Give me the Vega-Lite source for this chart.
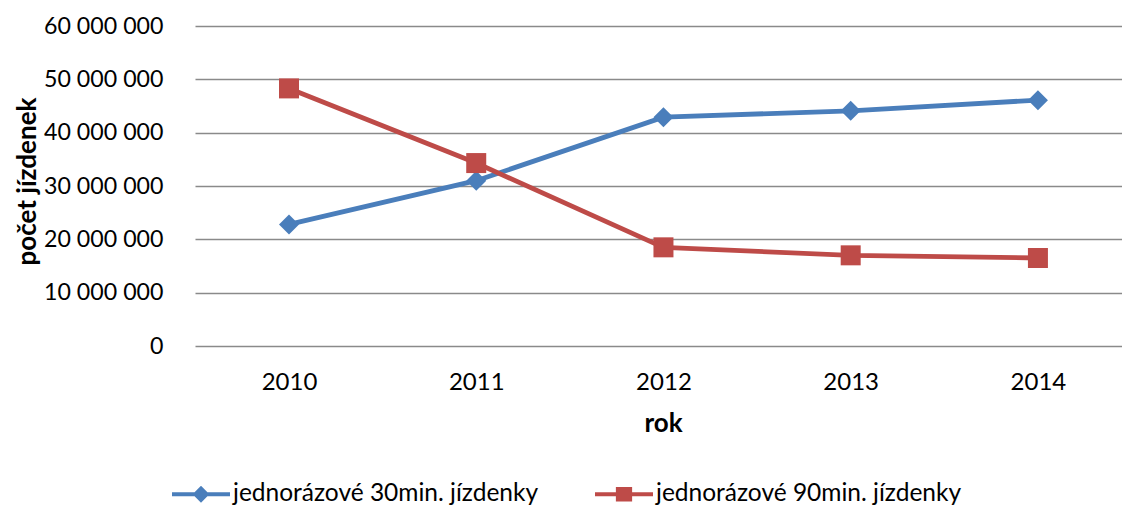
{
  "$schema": "https://vega.github.io/schema/vega-lite/v6.json",
  "width": 927,
  "height": 320,
  "autosize": {"type": "none"},
  "padding": {"left": 195, "top": 26, "right": 0, "bottom": 161},
  "background": "white",
  "config": {
    "font": "Lato",
    "view": {"stroke": null},
    "axis": {"labelColor": "#000000", "titleColor": "#000000"},
    "legend": {"labelColor": "#000000"}
  },
  "data": {
    "values": [
      {"rok": 2010, "serie": "jednorázové 30min. jízdenky", "pocet": 22800000},
      {"rok": 2011, "serie": "jednorázové 30min. jízdenky", "pocet": 31000000},
      {"rok": 2012, "serie": "jednorázové 30min. jízdenky", "pocet": 42900000},
      {"rok": 2013, "serie": "jednorázové 30min. jízdenky", "pocet": 44100000},
      {"rok": 2014, "serie": "jednorázové 30min. jízdenky", "pocet": 46100000},
      {"rok": 2010, "serie": "jednorázové 90min. jízdenky", "pocet": 48300000},
      {"rok": 2011, "serie": "jednorázové 90min. jízdenky", "pocet": 34300000},
      {"rok": 2012, "serie": "jednorázové 90min. jízdenky", "pocet": 18500000},
      {"rok": 2013, "serie": "jednorázové 90min. jízdenky", "pocet": 17000000},
      {"rok": 2014, "serie": "jednorázové 90min. jízdenky", "pocet": 16500000}
    ]
  },
  "encoding": {
    "x": {
      "field": "rok",
      "type": "quantitative",
      "scale": {"domain": [2009.498, 2014.449], "nice": false, "zero": false},
      "axis": {
        "values": [2010, 2011, 2012, 2013, 2014],
        "format": "d",
        "grid": false,
        "domain": false,
        "ticks": false,
        "tickSize": 0,
        "labelFontSize": 24,
        "labelBaseline": "middle",
        "labelPadding": 36,
        "labelFlush": false,
        "labelOverlap": false,
        "title": "rok",
        "titleFontSize": 26,
        "titleFontWeight": "bold",
        "titleBaseline": "middle",
        "titleX": 468,
        "titleY": 77
      }
    },
    "y": {
      "field": "pocet",
      "type": "quantitative",
      "scale": {"domain": [0, 60000000], "nice": false},
      "axis": {
        "values": [0, 10000000, 20000000, 30000000, 40000000, 50000000, 60000000],
        "labelExpr": "replace(format(datum.value, ','), regexp(',', 'g'), ' ')",
        "grid": true,
        "gridColor": "#8a8a8a",
        "gridWidth": 1.4,
        "domain": false,
        "ticks": false,
        "tickSize": 0,
        "labelFontSize": 23.2,
        "labelPadding": 32,
        "labelBaseline": "middle",
        "title": "počet jízdenek",
        "titleFontSize": 26,
        "titleFontWeight": "bold",
        "titleAngle": -90,
        "titleAlign": "center",
        "titleBaseline": "middle",
        "titleX": -168,
        "titleY": 155
      }
    }
  },
  "layer": [
    {
      "mark": {"type": "line", "strokeWidth": 4.8},
      "encoding": {
        "color": {
          "field": "serie",
          "type": "nominal",
          "scale": {
            "domain": ["jednorázové 30min. jízdenky", "jednorázové 90min. jízdenky"],
            "range": ["#4a7ebb", "#be4b48"]
          },
          "legend": {
            "title": null,
            "orient": "none",
            "direction": "horizontal",
            "legendX": -23,
            "legendY": 439,
            "symbolSize": 3364,
            "labelFontSize": 24.5,
            "labelOffset": 3,
            "labelLimit": 500,
            "columnPadding": 56,
            "encode": {
              "symbols": {
                "update": {
                  "shape": {"signal": "indexof(datum.value, '30min') >= 0 ? 'M-1,-0.07H1V0.07H-1Z M0,-0.29L0.29,0L0,0.29L-0.29,0Z' : 'M-1,-0.07H1V0.07H-1Z M-0.28,-0.25H0.28V0.25H-0.28Z'"},
                  "fill": {"scale": "color", "field": "value"},
                  "fillOpacity": {"value": 1},
                  "stroke": {"value": "transparent"},
                  "strokeWidth": {"value": 0}
                }
              }
            }
          }
        }
      }
    },
    {
      "transform": [{"filter": "indexof(datum.serie, '30min') >= 0"}],
      "mark": {"type": "point", "shape": "diamond", "filled": true, "size": 400, "color": "#4a7ebb", "opacity": 1}
    },
    {
      "transform": [{"filter": "indexof(datum.serie, '90min') >= 0"}],
      "mark": {"type": "point", "shape": "square", "filled": true, "size": 400, "color": "#be4b48", "opacity": 1}
    }
  ]
}
